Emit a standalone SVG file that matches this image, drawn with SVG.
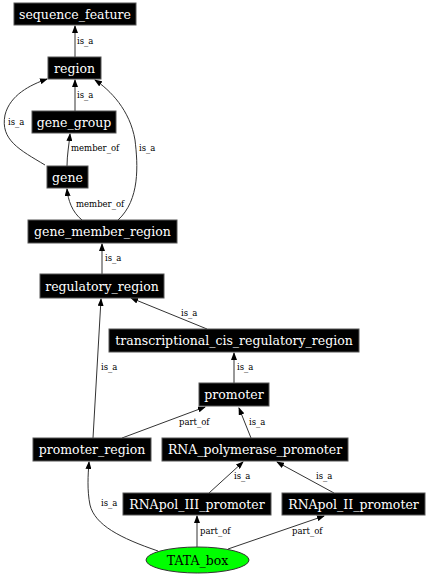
<svg xmlns="http://www.w3.org/2000/svg" width="427" height="576" viewBox="0 0 427 576">
<defs>
<marker id="ah" markerWidth="8" markerHeight="6" refX="7" refY="3" orient="auto" markerUnits="userSpaceOnUse">
<path d="M0,0 L8,3 L0,6 Z" fill="#000"/>
</marker>
<style>
.n rect{fill:#000;stroke:#555;stroke-width:1}
.n text{fill:#fff;font-family:"DejaVu Serif",serif;font-size:12.5px;text-anchor:middle}
#edges path{fill:none;stroke:#333;stroke-width:1;marker-end:url(#ah)}
#edges text{font-family:"DejaVu Serif",serif;font-size:8.5px;fill:#000}
</style>
</defs>
<rect width="427" height="576" fill="#fff"/>
<g id="edges">
<path d="M75,57 L75,26"/><text x="77" y="44">is_a</text>
<path d="M75,111 L75,80"/><text x="77" y="98">is_a</text>
<path d="M45,165 C20,150 0,140 5,115 C10,95 30,85 47,79"/><text x="8" y="125">is_a</text>
<path d="M67,166 C67,155 69,145 70,134"/><text x="71" y="151">member_of</text>
<path d="M82,220 C72,212 68,200 67,189"/><text x="76" y="207">member_of</text>
<path d="M118,220 C140,200 138,165 135,140 C130,110 110,90 95,80"/><text x="139" y="151">is_a</text>
<path d="M102,274 L102,244"/><text x="105" y="261">is_a</text>
<path d="M207,329 L131,298"/><text x="181" y="316">is_a</text>
<path d="M234,383 L234,353"/><text x="237" y="370">is_a</text>
<path d="M93,438 L101,299"/><text x="101" y="370">is_a</text>
<path d="M122,438 L205,407"/><text x="179" y="425">part_of</text>
<path d="M251,438 L239,408"/><text x="249" y="425">is_a</text>
<path d="M209,493 L243,462"/><text x="234" y="479">is_a</text>
<path d="M334,493 L277,462"/><text x="316" y="479">is_a</text>
<path d="M158,551 C120,538 95,525 90,505 C87,490 88,475 89,462"/><text x="101" y="506">is_a</text>
<path d="M197,547 L197,516"/><text x="200" y="534">part_of</text>
<path d="M228,549 L324,516"/><text x="292" y="534">part_of</text>
</g>
<g id="sequence_feature" class="n"><rect x="14" y="3" width="122" height="22"/><text x="75" y="18.5">sequence_feature</text></g>
<g id="region" class="n"><rect x="48" y="57" width="53" height="22"/><text x="74.5" y="72.5">region</text></g>
<g id="gene_group" class="n"><rect x="32" y="111" width="84" height="22"/><text x="74" y="126.5">gene_group</text></g>
<g id="gene" class="n"><rect x="47" y="166" width="41" height="22"/><text x="67.5" y="181.5">gene</text></g>
<g id="gene_member_region" class="n"><rect x="28" y="220" width="149" height="23"/><text x="102.5" y="235.5">gene_member_region</text></g>
<g id="regulatory_region" class="n"><rect x="40" y="274" width="124" height="24"/><text x="102" y="290.5">regulatory_region</text></g>
<g id="transcriptional_cis_regulatory_region" class="n"><rect x="109" y="329" width="250" height="23"/><text x="234" y="344.5">transcriptional_cis_regulatory_region</text></g>
<g id="promoter" class="n"><rect x="199" y="383" width="70" height="23"/><text x="234" y="398.5">promoter</text></g>
<g id="promoter_region" class="n"><rect x="33" y="438" width="118" height="23"/><text x="92" y="453.5">promoter_region</text></g>
<g id="RNA_polymerase_promoter" class="n"><rect x="162" y="438" width="186" height="23"/><text x="255" y="453.5">RNA_polymerase_promoter</text></g>
<g id="RNApol_III_promoter" class="n"><rect x="123" y="493" width="148" height="22"/><text x="197" y="508.5">RNApol_III_promoter</text></g>
<g id="RNApol_II_promoter" class="n"><rect x="282" y="493" width="143" height="22"/><text x="353.5" y="508.5">RNApol_II_promoter</text></g>
<g id="TATA_box"><ellipse cx="197.5" cy="560" rx="51.5" ry="13" fill="#00ff00" stroke="#333" stroke-width="1"/><text x="197.5" y="564.5" font-family="DejaVu Serif,serif" font-size="12.5" text-anchor="middle" fill="#000">TATA_box</text></g>
</svg>
